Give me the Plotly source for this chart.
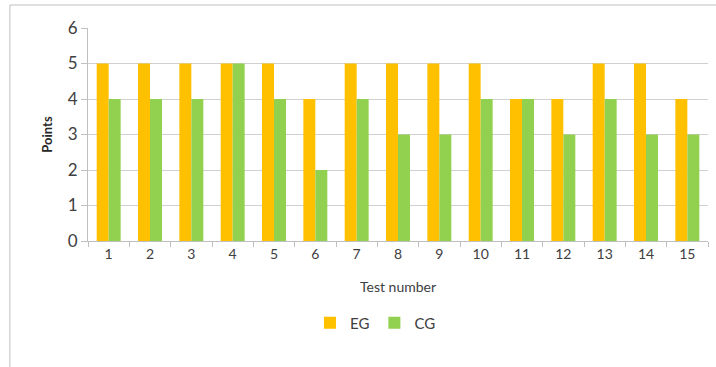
import plotly.graph_objects as go

tests = [str(i) for i in range(1, 16)]
eg = [5, 5, 5, 5, 5, 4, 5, 5, 5, 5, 4, 4, 5, 5, 4]
cg = [4, 4, 4, 5, 4, 2, 4, 3, 3, 4, 4, 3, 4, 3, 3]

FONT = "Lato, Open Sans, sans-serif"
fig = go.Figure()
fig.add_trace(go.Bar(x=tests, y=eg, name="EG", marker_color="#FFC000", marker_line_width=0))
fig.add_trace(go.Bar(x=tests, y=cg, name="CG", marker_color="#92D050", marker_line_width=0))

fig.update_layout(
    width=716, height=367, autosize=False,
    margin=dict(l=88, r=8, t=28, b=126),
    paper_bgcolor="white", plot_bgcolor="white",
    barmode="group", bargap=0.42, bargroupgap=0,
    font=dict(family=FONT, color="#404040"),
    showlegend=True,
    legend=dict(orientation="h", x=0.358, xanchor="left", y=-0.385, yanchor="middle",
                font=dict(size=15, color="#404040"), itemwidth=30, traceorder="normal",
                bgcolor="rgba(0,0,0,0)"),
    shapes=[
        dict(type="line", xref="paper", yref="paper", x0=-0.126, x1=1.02, y0=1.108, y1=1.108,
             line=dict(color="#BFBFBF", width=1)),
        dict(type="line", xref="paper", yref="paper", x0=-0.126, x1=-0.126, y0=1.108, y1=-0.6,
             line=dict(color="#BFBFBF", width=1)),
    ],
)
fig.update_xaxes(
    type="category", tickson="boundaries", ticks="outside", ticklen=5, tickcolor="#BFBFBF",
    showline=True, linecolor="#BFBFBF", linewidth=1, showgrid=False, automargin=False,
    tickfont=dict(size=14, color="#404040"),
    title=dict(text="Test number", font=dict(size=14, color="#404040"), standoff=21),
)
fig.update_yaxes(
    range=[0, 6], dtick=1, ticks="outside", ticklen=6, tickcolor="#BFBFBF",
    showline=True, linecolor="#BFBFBF", linewidth=1, automargin=False,
    showgrid=True, gridcolor="#D0D0D0", gridwidth=1, zeroline=False,
    tickfont=dict(size=17, color="#404040"),
    title=dict(text="<b>Points</b>", font=dict(size=13, color="#262626"), standoff=12),
)
fig.write_html("out.html", config={"displayModeBar": False},
               post_script="document.body.style.margin='0';document.body.style.overflow='hidden';")
